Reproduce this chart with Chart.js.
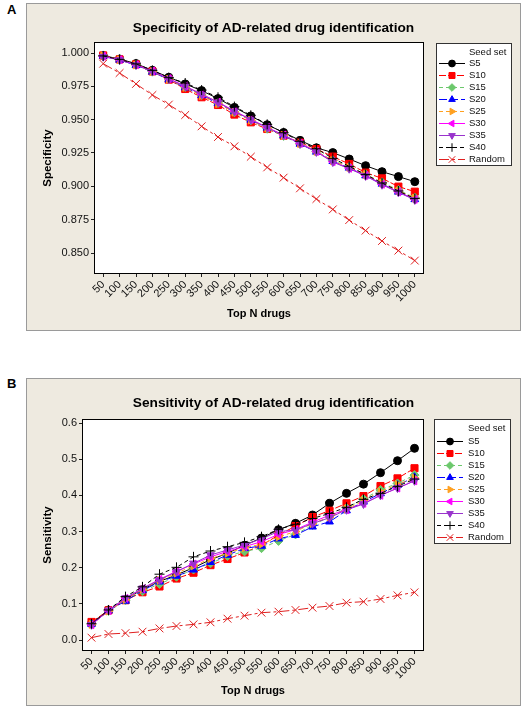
<!DOCTYPE html>
<html><head><meta charset="utf-8">
<script src="https://cdn.jsdelivr.net/npm/chart.js@4/dist/chart.umd.min.js"></script>
<style>
body{margin:0;background:#fff;width:526px;height:713px;position:relative;overflow:hidden;font-family:"Liberation Sans",Arial,sans-serif;}
.lab{position:absolute;font-weight:bold;font-size:13px;color:#000;}
.panel{position:absolute;left:26px;width:495px;height:328px;}
canvas{display:block;}
</style></head><body>
<div class="lab" style="left:7px;top:2px">A</div>
<div class="panel" style="top:3px"><canvas id="cA" width="495" height="328"></canvas></div>
<div class="lab" style="left:7px;top:376px">B</div>
<div class="panel" style="top:378px"><canvas id="cB" width="495" height="328"></canvas></div>
<script>
// ---------- DATA ----------
const topN = ['50','100','150','200','250','300','350','400','450','500','550','600','650','700','750','800','850','900','950','1000'];
const seriesNames = ['S5','S10','S15','S20','S25','S30','S35','S40','Random'];

// Specificity (panel A)
const specS5  = [0.9980,0.9955,0.9920,0.9870,0.9818,0.9768,0.9718,0.9658,0.9592,0.9528,0.9462,0.9404,0.9345,0.9289,0.9253,0.9205,0.9155,0.9110,0.9073,0.9035];
const specS10 = [0.9982,0.9952,0.9915,0.9862,0.9800,0.9730,0.9668,0.9610,0.9538,0.9480,0.9430,0.9380,0.9328,0.9280,0.9223,0.9168,0.9103,0.9060,0.8998,0.8960];
const specS15 = [0.9980,0.9950,0.9912,0.9860,0.9805,0.9745,0.9685,0.9625,0.9555,0.9495,0.9432,0.9378,0.9318,0.9262,0.9195,0.9145,0.9090,0.9030,0.8972,0.8915];
const specS20 = [0.9978,0.9948,0.9908,0.9858,0.9800,0.9740,0.9682,0.9622,0.9560,0.9498,0.9438,0.9380,0.9318,0.9258,0.9188,0.9138,0.9080,0.9018,0.8958,0.8902];
const specS25 = [0.9980,0.9950,0.9910,0.9860,0.9802,0.9742,0.9680,0.9620,0.9556,0.9496,0.9436,0.9382,0.9320,0.9262,0.9192,0.9142,0.9088,0.9025,0.8966,0.8912];
const specS30 = [0.9975,0.9950,0.9912,0.9865,0.9808,0.9752,0.9692,0.9632,0.9565,0.9503,0.9442,0.9385,0.9322,0.9262,0.9185,0.9135,0.9082,0.9015,0.8958,0.8902];
const specS35 = [0.9972,0.9948,0.9910,0.9862,0.9805,0.9750,0.9690,0.9630,0.9562,0.9500,0.9440,0.9383,0.9320,0.9258,0.9182,0.9132,0.9078,0.9012,0.8955,0.8898];
const specS40 = [0.9978,0.9952,0.9918,0.9870,0.9815,0.9775,0.9722,0.9668,0.9598,0.9533,0.9465,0.9402,0.9338,0.9282,0.9210,0.9150,0.9088,0.9025,0.8965,0.8908];
const specRandom = [0.9920,0.9850,0.9768,0.9685,0.9613,0.9535,0.9450,0.9370,0.9300,0.9222,0.9142,0.9065,0.8985,0.8905,0.8827,0.8747,0.8668,0.8590,0.8518,0.8443];
const specTicks = [0.850,0.875,0.900,0.925,0.950,0.975,1.000];

// Sensitivity (panel B)
const sensS5  = [0.045,0.083,0.113,0.140,0.162,0.180,0.200,0.222,0.240,0.262,0.282,0.305,0.3226,0.3456,0.378,0.4055,0.431,0.4626,0.4958,0.530];
const sensS10 = [0.050,0.082,0.110,0.132,0.148,0.170,0.186,0.207,0.224,0.242,0.262,0.290,0.315,0.340,0.3576,0.378,0.398,0.4258,0.447,0.475];
const sensS15 = [0.044,0.080,0.110,0.135,0.155,0.175,0.195,0.212,0.232,0.245,0.254,0.274,0.292,0.318,0.340,0.365,0.390,0.415,0.433,0.456];
const sensS20 = [0.044,0.081,0.108,0.137,0.161,0.177,0.194,0.215,0.235,0.2535,0.260,0.280,0.290,0.313,0.327,0.358,0.382,0.405,0.428,0.450];
const sensS25 = [0.043,0.080,0.112,0.140,0.165,0.185,0.205,0.225,0.240,0.255,0.265,0.285,0.300,0.322,0.340,0.362,0.385,0.410,0.430,0.448];
const sensS30 = [0.042,0.081,0.115,0.142,0.168,0.190,0.210,0.230,0.245,0.258,0.272,0.292,0.305,0.326,0.345,0.360,0.378,0.400,0.420,0.440];
const sensS35 = [0.042,0.082,0.116,0.143,0.166,0.189,0.212,0.235,0.249,0.2627,0.280,0.300,0.304,0.322,0.338,0.360,0.376,0.400,0.420,0.440];
const sensS40 = [0.045,0.083,0.120,0.147,0.182,0.201,0.230,0.246,0.258,0.270,0.2857,0.306,0.320,0.336,0.350,0.367,0.389,0.4055,0.425,0.445];
const sensRandom = [0.0065,0.0166,0.0190,0.0230,0.0320,0.0387,0.0433,0.0490,0.0590,0.0673,0.0756,0.0783,0.0830,0.0894,0.0940,0.1032,0.1060,0.1134,0.1235,0.1318];
const sensTicks = [0.0,0.1,0.2,0.3,0.4,0.5,0.6];

// ---------- STYLES ----------
const seriesColors = ['#000000','#FF0000','#6CC86C','#0000FF','#FFA020','#FF00FF','#9933CC','#000000','#E02020'];
const seriesDash = [[],[7,2],[4,3],[8,3],[4,3],[],[],[4,3],[10,3,3,3]];
const seriesMarker = ['circle','rect','rectRot','triangle','triangle','triangle','triangle','cross','crossRot'];
const seriesRotation = [0,0,0,0,90,-90,180,0,0];
const markerRadius = [4,5,4.5,4.5,4.5,4.5,4.5,5,5.5];
const BG = '#EEEAE0';
const FONT = '"Liberation Sans", Arial, sans-serif';
Chart.defaults.font.family = FONT;
Chart.defaults.color = '#111';

function drawMarker(ctx, i, x, y, scale){
  ctx.save();
  ctx.setLineDash([]);
  ctx.fillStyle = seriesColors[i];
  ctx.strokeStyle = seriesColors[i];
  ctx.lineWidth = 1;
  const o = {pointStyle: seriesMarker[i], rotation: seriesRotation[i], radius: markerRadius[i]*scale, borderWidth: 1};
  if (Chart.helpers && Chart.helpers.drawPoint) {
    Chart.helpers.drawPoint(ctx, o, x, y);
  } else {
    ctx.beginPath(); ctx.arc(x, y, o.radius, 0, Math.PI*2); ctx.fill();
  }
  ctx.restore();
}

const panelPlugin = {
  id: 'panel',
  beforeDraw(chart, args, opts){
    const {ctx, chartArea: a, width, height} = chart;
    ctx.save();
    ctx.fillStyle = BG; ctx.fillRect(0,0,width,height);
    ctx.strokeStyle = '#9a9a9a'; ctx.lineWidth = 1; ctx.strokeRect(0.5,0.5,width-1,height-1);
    ctx.fillStyle = '#fff'; ctx.fillRect(a.left, a.top, a.right-a.left, a.bottom-a.top);
    ctx.fillStyle = '#000'; ctx.font = 'bold 13.7px ' + FONT;
    ctx.textAlign = 'center'; ctx.textBaseline = 'middle';
    ctx.fillText(opts.title, width/2, opts.titleY);
    ctx.restore();
  },
  afterDraw(chart, args, opts){
    const {ctx, chartArea: a} = chart;
    ctx.save();
    ctx.strokeStyle = '#000'; ctx.lineWidth = 1; ctx.setLineDash([]);
    ctx.strokeRect(Math.round(a.left)-0.5, Math.round(a.top)-0.5, Math.round(a.right-a.left)+1, Math.round(a.bottom-a.top)+1);
    // legend
    const L = opts.legend;
    ctx.fillStyle = '#fff'; ctx.fillRect(L.x, L.y, L.w, L.h);
    ctx.strokeStyle = '#333'; ctx.strokeRect(L.x+0.5, L.y+0.5, L.w-1, L.h-1);
    ctx.font = '9.5px ' + FONT; ctx.fillStyle = '#111'; ctx.textAlign = 'left'; ctx.textBaseline = 'middle';
    ctx.fillText('Seed set', L.tx, L.titleY);
    for (let i = 0; i < seriesNames.length; i++) {
      const y = L.row0 + i*L.step;
      ctx.save();
      ctx.strokeStyle = seriesColors[i]; ctx.lineWidth = 1; ctx.setLineDash(seriesDash[i]);
      ctx.beginPath(); ctx.moveTo(L.lx0, y+0.5); ctx.lineTo(L.lx1, y+0.5); ctx.stroke();
      ctx.restore();
      drawMarker(ctx, i, (L.lx0+L.lx1)/2, y+0.5, 0.85);
      ctx.fillStyle = '#111';
      ctx.fillText(seriesNames[i], L.tx, y);
    }
    ctx.restore();
  }
};

function makeChart(id, seriesData, cfg){
  const datasets = seriesData.map((d, i) => ({
    label: seriesNames[i],
    data: d,
    borderColor: seriesColors[i],
    backgroundColor: seriesColors[i],
    borderWidth: 1,
    borderDash: seriesDash[i],
    pointStyle: seriesMarker[i],
    pointRotation: seriesRotation[i],
    pointRadius: markerRadius[i],
    pointBackgroundColor: seriesColors[i],
    pointBorderColor: seriesColors[i],
    pointBorderWidth: 1,
    tension: 0,
    order: seriesNames.length - i
  }));
  return new Chart(document.getElementById(id), {
    type: 'line',
    data: {labels: topN, datasets},
    plugins: [panelPlugin],
    options: {
      responsive: false, animation: false, events: [],
      layout: {padding: {left: 0, right: cfg.padRight, top: cfg.padTop, bottom: 0}},
      plugins: {
        legend: {display: false}, title: {display: false}, tooltip: {enabled: false},
        panel: {title: cfg.title, titleY: cfg.titleY, legend: cfg.legend}
      },
      scales: {
        x: {
          type: 'category', offset: true,
          grid: {display: true, drawOnChartArea: false, drawTicks: true, tickLength: 4, color: '#222'},
          border: {display: false},
          ticks: {autoSkip: false, maxRotation: 45, minRotation: 45, padding: 1, font: {size: 11}, color: '#111'},
          title: {display: true, text: 'Top N drugs', font: {size: 11, weight: 'bold'}, color: '#000', padding: {top: 0, bottom: cfg.xTitlePad}},
          afterFit(s){ s.height = cfg.xHeight; }
        },
        y: {
          type: 'linear', min: cfg.yMin, max: cfg.yMax,
          grid: {display: true, drawOnChartArea: false, drawTicks: true, tickLength: 4, color: '#222'},
          border: {display: false},
          ticks: {padding: 2, font: {size: 11}, color: '#111', callback: v => Number(v).toFixed(cfg.dec)},
          afterBuildTicks(s){ s.ticks = cfg.ticks.map(v => ({value: v})); },
          title: {display: true, text: cfg.yTitle, font: {size: 11.5, weight: 'bold'}, color: '#000', padding: {top: 15, bottom: 0}},
          afterFit(s){ s.width = cfg.yWidth; }
        }
      }
    }
  });
}

makeChart('cA', [specS5, specS10, specS15, specS20, specS25, specS30, specS35, specS40, specRandom], {
  title: 'Specificity of AD-related drug identification', titleY: 25,
  yTitle: 'Specificity', yMin: 0.835, yMax: 1.0075, ticks: specTicks, dec: 3,
  padRight: 98, padTop: 40, yWidth: 69, xHeight: 58, xTitlePad: 10.4,
  legend: {x: 410, y: 40, w: 76, h: 123, tx: 443, titleY: 49, row0: 60, step: 12, lx0: 413, lx1: 439}
});
makeChart('cB', [sensS5, sensS10, sensS15, sensS20, sensS25, sensS30, sensS35, sensS40, sensRandom], {
  title: 'Sensitivity of AD-related drug identification', titleY: 25,
  yTitle: 'Sensitivity', yMin: -0.0276, yMax: 0.6083, ticks: sensTicks, dec: 1,
  padRight: 98, padTop: 42, yWidth: 57, xHeight: 56, xTitlePad: 8.4,
  legend: {x: 408, y: 41, w: 77, h: 125, tx: 442, titleY: 50, row0: 63, step: 12, lx0: 411, lx1: 437}
});
</script>
</body></html>
